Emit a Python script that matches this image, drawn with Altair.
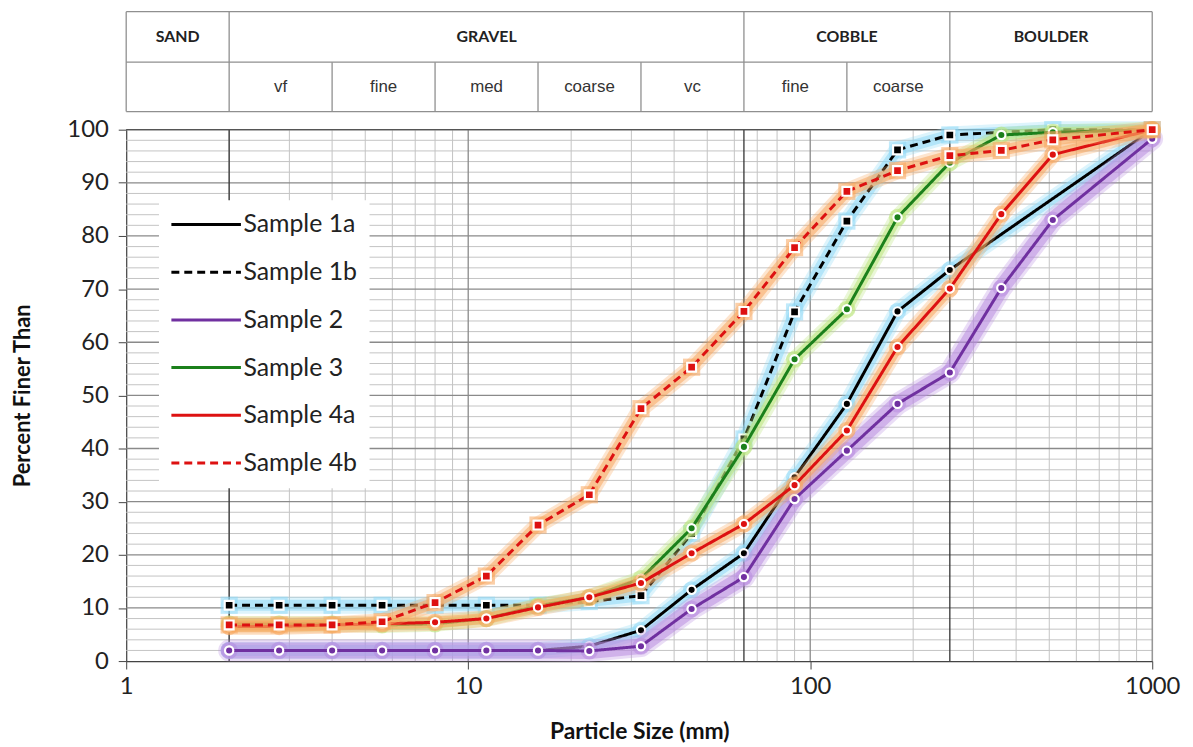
import altair as alt
import pandas as pd
import math

# ---------------- data ----------------
sizes = [2, 2.8, 4, 5.6, 8, 11.3, 16, 22.6, 32, 45, 64, 90, 128, 180, 256, 362, 512, 1000]

sample_1a = [2, 2, 2, 2, 2, 2, 2, 2.8, 5.8, 13.4, 20.3, 34.6, 48.4, 65.8, 73.6, None, None, 100]
sample_1b = [10.5, 10.5, 10.5, 10.5, 10.5, 10.5, 10.5, 11.2, 12.3, 24, 41.8, 65.7, 82.8, 96.2, 99, None, 100, 100]
sample_2 = [2, 2, 2, 2, 2, 2, 2, 1.9, 2.8, 9.8, 15.8, 30.5, 39.6, 48.4, 54.3, 70.2, 83, 98.3]
sample_3 = [7, 7, 7, 6.8, 7, 8, 10.4, 12, 15.5, 25, 40.3, 56.8, 66.2, 83.5, 93.8, 99, 99.5, 100]
sample_4a = [6.5, 6.5, 6.8, 7, 7.3, 8, 10.1, 12, 14.7, 20.3, 25.8, 33.1, 43.4, 59.1, 70.1, 84.1, 95.3, 100]
sample_4b = [6.8, 6.8, 6.8, 7.4, 11, 16, 25.6, 31.3, 47.5, 55.3, 65.8, 77.8, 88.4, 92.3, 95.1, 96.1, 98.1, 100]

series_names = ["Sample 1a", "Sample 1b", "Sample 2", "Sample 3", "Sample 4a", "Sample 4b"]
series_values = [sample_1a, sample_1b, sample_2, sample_3, sample_4a, sample_4b]

class_names = ["Sand", "Gravel", "Cobble", "Boulder"]
class_bounds = [1, 2, 64, 256, 1000]
sub_names = ["vf", "fine", "med", "coarse", "vc", "fine", "coarse"]
sub_bounds = [2, 4, 8, 16, 32, 64, 128, 256]

x_ticks = [1, 10, 100, 1000]
y_ticks = list(range(0, 101, 10))

# ---------------- styles ----------------
line_colors = ["#000000", "#000000", "#7030a0", "#1b801b", "#dd1111", "#dd1111"]
glow_colors = ["#8fd9f5", "#8fd9f5", "#b98ee0", "#b9e57a", "#f8a860", "#f8a860"]
glow_widths = [11, 11, 16, 10, 11, 11]
dashes = [[1, 0], [8, 5], [1, 0], [1, 0], [1, 0], [8, 5]]
shapes = ["circle", "square", "circle", "circle", "circle", "square"]

W, H = 1033, 535
FONT = "Lato"

rows = []
for name, vals in zip(series_names, series_values):
    for s, v in zip(sizes, vals):
        if v is not None:
            rows.append({"size": s, "pct": v, "series": name})
df = pd.DataFrame(rows)

xscale = alt.Scale(type="log", domain=[1, 1000])
yscale = alt.Scale(domain=[0, 100])

x_axis = alt.Axis(values=x_ticks, format="d", grid=False, tickSize=8, tickColor="#444",
                  domainColor="#444", domainWidth=1.2, labelFont=FONT, labelFontSize=24,
                  labelColor="#222", labelPadding=6, labelFlush=False,
                  title="Particle Size (mm)", titleFont=FONT, titleFontSize=23,
                  titleFontWeight="bold", titleColor="#111", titlePadding=22)
y_axis = alt.Axis(values=y_ticks, grid=False, tickSize=8, tickColor="#444",
                  domainColor="#444", domainWidth=1.2, labelFont=FONT, labelFontSize=24,
                  labelColor="#222", labelPadding=10,
                  title="Percent Finer Than", titleFont=FONT, titleFontSize=22,
                  titleFontWeight="bold", titleColor="#111", titlePadding=33)


def hx(field):
    return alt.X(field, type="quantitative", scale=xscale, axis=x_axis)


def hy(field):
    return alt.Y(field, type="quantitative", scale=yscale, axis=y_axis)


layers = []

# ---------------- grid ----------------
minor_x = [m * d for d in (1, 10, 100) for m in range(2, 10)]
minor_y = [v for v in range(2, 100, 2) if v % 10 != 0]
major_y = list(range(10, 101, 10))


def vrules(xs, y0, y1, color, width):
    d = pd.DataFrame({"x": xs, "y0": [y0] * len(xs), "y1": [y1] * len(xs)})
    return alt.Chart(d).mark_rule(color=color, strokeWidth=width).encode(
        x=hx("x"), y=hy("y0"), y2=alt.Y2("y1"))


def hrules(ys, x0, x1, color, width):
    d = pd.DataFrame({"y": ys, "x0": [x0] * len(ys), "x1": [x1] * len(ys)})
    return alt.Chart(d).mark_rule(color=color, strokeWidth=width).encode(
        y=hy("y"), x=hx("x0"), x2=alt.X2("x1"))


layers.append(vrules(minor_x, 0, 100, "#c4c4c4", 1))
layers.append(hrules(minor_y, 1, 1000, "#c4c4c4", 1))
layers.append(hrules(major_y, 1, 1000, "#8a8a8a", 1.3))
layers.append(vrules([10, 100, 1000], 0, 100, "#8a8a8a", 1.3))
layers.append(vrules(class_bounds[1:-1], 0, 100, "#333333", 1.3))
layers.append(hrules([100], 1, 1000, "#555555", 1.3))

# ---------------- header table ----------------
HB, HM, HT = 103.4, 112.7, 122.2
hdr_col = "#8f8f8f"
layers.append(hrules([HB, HM, HT], 1, 1000, hdr_col, 1.3))
layers.append(vrules(class_bounds, HB, HT, hdr_col, 1.3))
sub_inner = [b for b in sub_bounds if b not in class_bounds]
layers.append(vrules(sub_inner, HB, HM, hdr_col, 1.3))

cls_df = pd.DataFrame({
    "label": [c.upper() for c in class_names],
    "x": [math.sqrt(a * b) for a, b in zip(class_bounds[:-1], class_bounds[1:])],
    "y": [(HM + HT) / 2] * len(class_names),
})
layers.append(alt.Chart(cls_df).mark_text(font=FONT, fontSize=16, fontWeight="bold", color="#222",
                                          baseline="middle", align="center").encode(
    x=hx("x"), y=hy("y"), text="label:N"))
sub_df = pd.DataFrame({
    "label": sub_names,
    "x": [math.sqrt(a * b) for a, b in zip(sub_bounds[:-1], sub_bounds[1:])],
    "y": [(HB + HM) / 2] * len(sub_names),
})
layers.append(alt.Chart(sub_df).mark_text(font="Liberation Sans Narrow, Liberation Sans", fontSize=17,
                                          color="#333", baseline="middle", align="center").encode(
    x=hx("x"), y=hy("y"), text="label:N"))

# ---------------- series ----------------
color_scale = alt.Scale(domain=series_names, range=line_colors)
dash_scale = alt.Scale(domain=series_names, range=dashes)
legend = alt.Legend(orient="none", legendX=33, legendY=71, title=None,
                    symbolType="M-5,0H5", symbolSize=196, symbolStrokeWidth=3,
                    symbolOffset=23, labelOffset=25,
                    labelFont=FONT, labelFontSize=25, labelColor="#222",
                    fillColor="white", padding=12, rowPadding=22)

for i, name in enumerate(series_names):
    sub = df[df.series == name]
    base = alt.Chart(sub)
    gw = glow_widths[i]
    gc = glow_colors[i]
    layers.append(base.mark_line(color=gc, strokeWidth=gw + 6, opacity=0.3,
                                 strokeJoin="round", strokeCap="round").encode(
        x=hx("size"), y=hy("pct")))
    layers.append(base.mark_line(color=gc, strokeWidth=gw, opacity=0.55,
                                 strokeJoin="round", strokeCap="round").encode(
        x=hx("size"), y=hy("pct")))
    layers.append(base.mark_point(shape=shapes[i], filled=True, color=gc, size=300, opacity=0.55).encode(
        x=hx("size"), y=hy("pct")))
    layers.append(base.mark_line(strokeWidth=3, strokeJoin="round").encode(
        x=hx("size"), y=hy("pct"),
        color=alt.Color("series:N", scale=color_scale, legend=legend),
        strokeDash=alt.StrokeDash("series:N", scale=dash_scale, legend=legend)))
    layers.append(base.mark_point(shape=shapes[i], filled=True, fill=line_colors[i], stroke="white",
                                  strokeWidth=2.2, size=70 if shapes[i] == "circle" else 80,
                                  opacity=1).encode(
        x=hx("size"), y=hy("pct")))

chart = alt.layer(*layers).properties(
    width=W, height=H,
    padding={"left": 3, "top": 0, "right": 5, "bottom": 0},
).configure_view(stroke=None).configure(background="white")

chart.save("out.html", embed_options={"renderer": "svg", "actions": False})
